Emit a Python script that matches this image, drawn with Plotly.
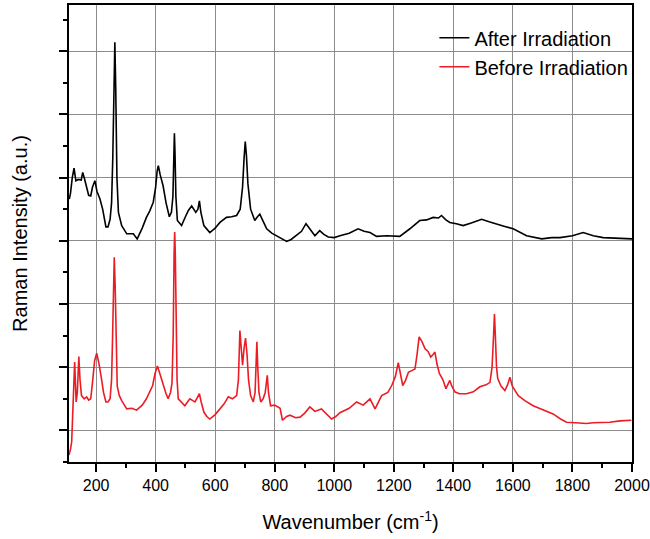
import plotly.graph_objects as go

# After irradiation (black)
after_x = [110, 114, 120, 126, 132, 140, 150, 155, 160, 168, 175, 182, 188, 196, 203, 213, 222, 233, 240, 247,
           252, 256, 260, 263, 266, 270, 275, 286, 303, 325, 338, 355, 369, 380, 392, 400, 405, 409, 415, 425,
           435, 446, 453, 458, 461, 463, 465, 468, 473, 487, 500, 510, 521, 535, 542, 547, 552, 562, 582, 600,
           616, 638, 655, 672, 684, 692, 697, 701, 705, 710, 719, 733, 742, 750, 760, 773, 790, 806, 825, 840,
           855, 873, 890, 905, 918, 935, 951, 965, 980, 1000, 1019, 1050, 1080, 1100, 1120, 1142, 1176, 1200,
           1220, 1254, 1287, 1310, 1332, 1350, 1360, 1375, 1388, 1410, 1433, 1460, 1495, 1520, 1545, 1570,
           1601, 1646, 1697, 1730, 1758, 1800, 1836, 1870, 1903, 1950, 2000]
after_y = [4.66, 4.75, 5.0, 5.15, 4.95, 4.97, 4.96, 5.08, 5.0, 4.85, 4.72, 4.71, 4.85, 4.95, 4.78, 4.66, 4.5, 4.22,
           4.22, 4.34, 4.6, 5.3, 6.6, 7.14, 6.4, 5.0, 4.45, 4.24, 4.11, 4.11, 4.03, 4.2, 4.37, 4.47, 4.61, 4.85,
           5.1, 5.19, 5.05, 4.87, 4.6, 4.38, 4.45, 4.7, 5.3, 5.7, 5.4, 4.7, 4.32, 4.24, 4.38, 4.48, 4.55, 4.45,
           4.5, 4.63, 4.45, 4.24, 4.13, 4.2, 4.29, 4.37, 4.38, 4.4, 4.5, 4.85, 5.3, 5.57, 5.35, 4.9, 4.5, 4.32,
           4.38, 4.42, 4.32, 4.19, 4.12, 4.08, 4.02, 3.99, 4.02, 4.08, 4.15, 4.27, 4.18, 4.08, 4.16, 4.1, 4.06,
           4.05, 4.08, 4.12, 4.19, 4.15, 4.13, 4.07, 4.08, 4.07, 4.07, 4.19, 4.32, 4.33, 4.37, 4.36, 4.4, 4.33,
           4.29, 4.27, 4.24, 4.28, 4.34, 4.3, 4.27, 4.23, 4.19, 4.08, 4.03, 4.05, 4.05, 4.08, 4.13, 4.08, 4.05,
           4.04, 4.03]

# Before irradiation (red)
before_x = [109, 114, 118, 122, 125, 128, 131, 133, 137, 142, 146, 151, 160, 168, 175, 182, 188, 195, 202, 210,
            218, 225, 233, 240, 247, 252, 255, 258, 261, 264, 267, 271, 278, 286, 303, 320, 336, 355, 369, 380,
            390, 398, 406, 414, 425, 435, 442, 450, 455, 459, 462, 464, 466, 469, 472, 476, 487, 498, 507, 515,
            525, 532, 540, 547, 553, 562, 572, 582, 600, 616, 630, 644, 658, 672, 678, 683, 687, 692, 697, 702,
            707, 712, 719, 728, 734, 737, 740, 743, 747, 753, 761, 768, 772, 775, 779, 786, 800, 812, 818, 826,
            840, 851, 870, 885, 900, 918, 935, 957, 970, 991, 1005, 1019, 1050, 1075, 1097, 1120, 1137, 1159,
            1180, 1193, 1205, 1215, 1222, 1230, 1240, 1249, 1262, 1271, 1278, 1285, 1295, 1305, 1315, 1324,
            1332, 1338, 1345, 1353, 1365, 1375, 1388, 1395, 1405, 1420, 1444, 1467, 1489, 1510, 1523, 1530,
            1535, 1538, 1541, 1545, 1549, 1560, 1573, 1582, 1590, 1598, 1618, 1640, 1668, 1700, 1735, 1760,
            1780, 1810, 1847, 1870, 1900, 1925, 1960, 1998]
before_y = [0.61, 0.7, 0.82, 1.3, 1.8, 2.08, 1.7, 1.45, 1.6, 2.17, 1.8, 1.55, 1.5, 1.53, 1.48, 1.5, 1.76, 2.1,
            2.22, 2.05, 1.82, 1.6, 1.45, 1.45, 1.5, 1.8, 2.4, 3.3, 3.74, 3.3, 2.3, 1.7, 1.55, 1.47, 1.34, 1.35,
            1.32, 1.4, 1.5, 1.6, 1.71, 1.9, 2.02, 1.9, 1.71, 1.58, 1.5, 1.6, 1.75, 2.5, 3.8, 4.14, 3.8, 2.5,
            1.8, 1.5, 1.45, 1.39, 1.45, 1.5, 1.47, 1.45, 1.52, 1.58, 1.45, 1.29, 1.22, 1.18, 1.25, 1.34, 1.42,
            1.53, 1.5, 1.55, 1.8, 2.58, 2.3, 2.03, 2.3, 2.46, 2.2, 1.8, 1.55, 1.45, 1.6, 2.0, 2.4, 2.0, 1.6,
            1.45, 1.5, 1.6, 1.75, 1.87, 1.6, 1.39, 1.4, 1.37, 1.35, 1.16, 1.22, 1.24, 1.2, 1.21, 1.27, 1.37,
            1.3, 1.34, 1.28, 1.18, 1.22, 1.28, 1.35, 1.45, 1.4, 1.5, 1.34, 1.55, 1.6, 1.71, 1.85, 2.07, 1.9,
            1.71, 1.8, 1.92, 1.95, 1.97, 2.2, 2.48, 2.4, 2.29, 2.25, 2.16, 2.2, 2.24, 2.05, 1.9, 1.8, 1.66,
            1.79, 1.7, 1.61, 1.58, 1.58, 1.61, 1.69, 1.72, 1.76, 2.0, 2.5, 2.84, 2.5, 2.0, 1.82, 1.7, 1.63,
            1.72, 1.84, 1.7, 1.55, 1.47, 1.39, 1.33, 1.26, 1.18, 1.13, 1.12, 1.11, 1.12, 1.12, 1.13, 1.15, 1.16]

x_range = [109, 2000]
y_range = [0.5, 7.73]
x_ticks = [200, 400, 600, 800, 1000, 1200, 1400, 1600, 1800, 2000]

FONT = "Liberation Sans, Arial, sans-serif"

fig = go.Figure()
fig.add_trace(go.Scatter(x=after_x, y=after_y, mode="lines", name="After Irradiation",
                         line=dict(color="#000000", width=1.6)))
fig.add_trace(go.Scatter(x=before_x, y=before_y, mode="lines", name="Before Irradiation",
                         line=dict(color="#ec1c24", width=1.6)))

fig.update_layout(
    width=650, height=539,
    margin=dict(l=69, r=18, t=5, b=77, autoexpand=False),
    paper_bgcolor="white", plot_bgcolor="white",
    font=dict(family=FONT, color="black"),
    showlegend=True,
    legend=dict(x=0.649, y=0.971, xanchor="left", yanchor="top",
                bgcolor="rgba(0,0,0,0)", font=dict(size=20, family=FONT),
                itemwidth=30, tracegroupgap=0),
    xaxis=dict(range=x_range, tickmode="array", tickvals=x_ticks, automargin=False,
               ticks="outside", ticklen=8, tickwidth=1.5, tickcolor="black",
               minor=dict(dtick=100, tick0=0, ticks="outside", ticklen=4, tickwidth=1.5,
                          tickcolor="black", showgrid=False),
               showline=True, linecolor="black", linewidth=1.5, mirror=True,
               showgrid=True, gridcolor="#8c8c8c", gridwidth=1,
               tickfont=dict(size=16, family=FONT),
               title=dict(text="Wavenumber (cm<sup>-1</sup>)", font=dict(size=20, family=FONT), standoff=22),
               zeroline=False),
    yaxis=dict(range=y_range, dtick=1, tick0=0, automargin=False,
               ticks="outside", ticklen=8, tickwidth=1.5, tickcolor="black",
               minor=dict(dtick=0.5, tick0=0, ticks="outside", ticklen=4, tickwidth=1.5,
                          tickcolor="black", showgrid=False),
               showline=True, linecolor="black", linewidth=1.5, mirror=True,
               showgrid=True, gridcolor="#8c8c8c", gridwidth=1,
               showticklabels=False,
               title=dict(text="Raman Intensity (a.u.)", font=dict(size=20, family=FONT), standoff=26),
               zeroline=False),
    xaxis2=dict(range=x_range, overlaying="x", side="top", anchor="y", tickmode="array", tickvals=x_ticks,
                automargin=False,
                ticks="inside", ticklen=8, tickwidth=1.5, tickcolor="black",
                minor=dict(dtick=100, tick0=0, ticks="inside", ticklen=4, tickwidth=1.5,
                           tickcolor="black", showgrid=False),
                showticklabels=False, showgrid=False, showline=False, zeroline=False),
    yaxis2=dict(range=y_range, overlaying="y", side="right", anchor="x", dtick=1, tick0=0,
                automargin=False,
                ticks="outside", ticklen=3, tickwidth=1.5, tickcolor="black",
                minor=dict(dtick=0.5, tick0=0, ticks="outside", ticklen=2, tickwidth=1.5,
                           tickcolor="black", showgrid=False),
                showticklabels=False, showgrid=False, showline=False, zeroline=False),
)

fig.write_html("out.html", config={"displayModeBar": False},
               post_script="document.body.style.margin='0';")
